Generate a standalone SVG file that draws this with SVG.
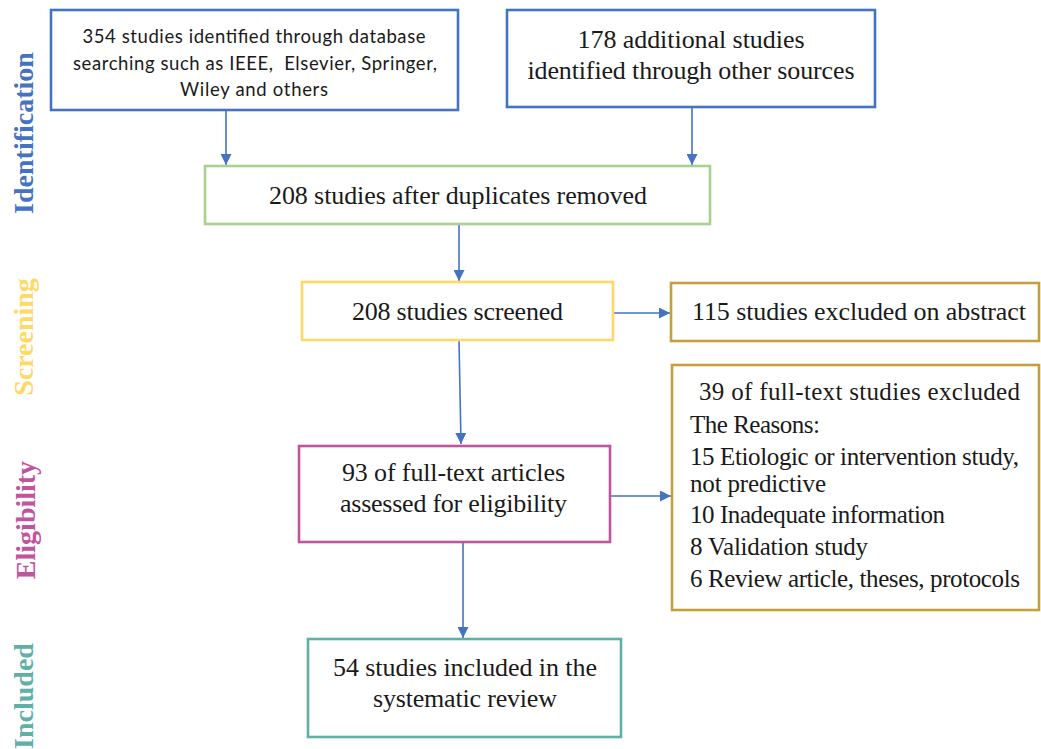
<svg xmlns="http://www.w3.org/2000/svg" width="1041" height="749" viewBox="0 0 1041 749">
<defs>
<style>
.box{fill:#ffffff;stroke-width:2.6}
.blue{stroke:#4472C4}
.green{stroke:#A9D18E}
.yellow{stroke:#FFD966}
.gold{stroke:#C4A03C}
.magenta{stroke:#C2549F}
.teal{stroke:#5FB0A6}
.serif{font-family:"Liberation Serif","Times New Roman",serif;fill:#1a1a1a}
.sans{font-family:Lato,"Liberation Sans",Arial,sans-serif;fill:#1a1a1a}
.side{font-family:"Liberation Serif","Times New Roman",serif;font-weight:bold;font-size:28px}
.conn{stroke:#4472C4;stroke-width:1.6;fill:none;marker-end:url(#ah)}
</style>
<marker id="ah" markerUnits="userSpaceOnUse" viewBox="0 0 10 10" refX="10" refY="5" markerWidth="11" markerHeight="11" orient="auto">
<path d="M0,0 L10,5 L0,10 z" fill="#4472C4"/>
</marker>
</defs>
<rect width="1041" height="749" fill="#ffffff"/>

<g id="side-labels">
<text class="side" fill="#4472C4" text-anchor="middle" transform="translate(33,133) rotate(-90)">Identification</text>
<text class="side" fill="#FFD966" text-anchor="middle" transform="translate(33,337) rotate(-90)">Screening</text>
<text class="side" fill="#C2549F" text-anchor="middle" transform="translate(35,520) rotate(-90)">Eligibility</text>
<text class="side" fill="#5FB0A6" text-anchor="middle" transform="translate(33,696) rotate(-90)">Included</text>
</g>

<g id="connectors">
<line class="conn" x1="226" y1="110" x2="226" y2="165"/>
<line class="conn" x1="692" y1="107" x2="692" y2="165"/>
<line class="conn" x1="459" y1="224" x2="459" y2="281"/>
<line class="conn" x1="613" y1="313" x2="670" y2="313"/>
<line class="conn" x1="459" y1="340" x2="461" y2="444"/>
<line class="conn" x1="610" y1="496" x2="671" y2="496"/>
<line class="conn" x1="463" y1="542" x2="463" y2="638"/>
</g>

<g id="node-database">
<rect class="box blue" x="51" y="10" width="407" height="100"/>
<text class="sans" font-size="18.5" text-anchor="middle" x="254" y="43" textLength="343" lengthAdjust="spacing">354 studies identified through database</text>
<text class="sans" font-size="18.5" text-anchor="middle" x="255" y="70" textLength="364" lengthAdjust="spacing" xml:space="preserve">searching such as IEEE,  Elsevier, Springer,</text>
<text class="sans" font-size="18.5" text-anchor="middle" x="254" y="96" textLength="148" lengthAdjust="spacing">Wiley and others</text>
</g>

<g id="node-other">
<rect class="box blue" x="507" y="10" width="368" height="97"/>
<text class="serif" font-size="26" text-anchor="middle" x="691" y="48" textLength="227" lengthAdjust="spacing">178 additional studies</text>
<text class="serif" font-size="26" text-anchor="middle" x="691" y="79" textLength="327" lengthAdjust="spacing">identified through other sources</text>
</g>

<g id="node-duplicates">
<rect class="box green" x="205" y="166" width="505" height="58"/>
<text class="serif" font-size="26" text-anchor="middle" x="458" y="204" textLength="378" lengthAdjust="spacing">208 studies after duplicates removed</text>
</g>

<g id="node-screened">
<rect class="box yellow" x="302" y="282" width="311" height="58"/>
<text class="serif" font-size="26" text-anchor="middle" x="457.5" y="320" textLength="211" lengthAdjust="spacing">208 studies screened</text>
</g>

<g id="node-abstract">
<rect class="box gold" x="671" y="283" width="368" height="58"/>
<text class="serif" font-size="26" text-anchor="middle" x="859" y="320" textLength="334" lengthAdjust="spacing">115 studies excluded on abstract</text>
</g>

<g id="node-eligibility">
<rect class="box magenta" x="299" y="446" width="311" height="96"/>
<text class="serif" font-size="26" text-anchor="middle" x="453.5" y="481" textLength="223" lengthAdjust="spacing">93 of full-text articles</text>
<text class="serif" font-size="26" text-anchor="middle" x="453.5" y="512" textLength="227" lengthAdjust="spacing">assessed for eligibility</text>
</g>

<g id="node-reasons">
<rect class="box gold" x="672" y="365" width="367" height="245"/>
<text class="serif" font-size="25" x="699" y="400" textLength="321" lengthAdjust="spacing">39 of full-text studies excluded</text>
<text class="serif" font-size="25" x="690" y="433" textLength="130" lengthAdjust="spacing">The Reasons:</text>
<text class="serif" font-size="25" x="690" y="465" textLength="329" lengthAdjust="spacing">15 Etiologic or intervention study,</text>
<text class="serif" font-size="25" x="690" y="492" textLength="136" lengthAdjust="spacing">not predictive</text>
<text class="serif" font-size="25" x="690" y="523" textLength="255" lengthAdjust="spacing">10 Inadequate information</text>
<text class="serif" font-size="25" x="690" y="555" textLength="178" lengthAdjust="spacing">8 Validation study</text>
<text class="serif" font-size="25" x="690" y="587" textLength="330" lengthAdjust="spacing">6 Review article, theses, protocols</text>
</g>

<g id="node-included">
<rect class="box teal" x="308" y="639" width="313" height="98"/>
<text class="serif" font-size="26" text-anchor="middle" x="465" y="676" textLength="264" lengthAdjust="spacing">54 studies included in the</text>
<text class="serif" font-size="26" text-anchor="middle" x="465" y="707" textLength="184" lengthAdjust="spacing">systematic review</text>
</g>
</svg>
